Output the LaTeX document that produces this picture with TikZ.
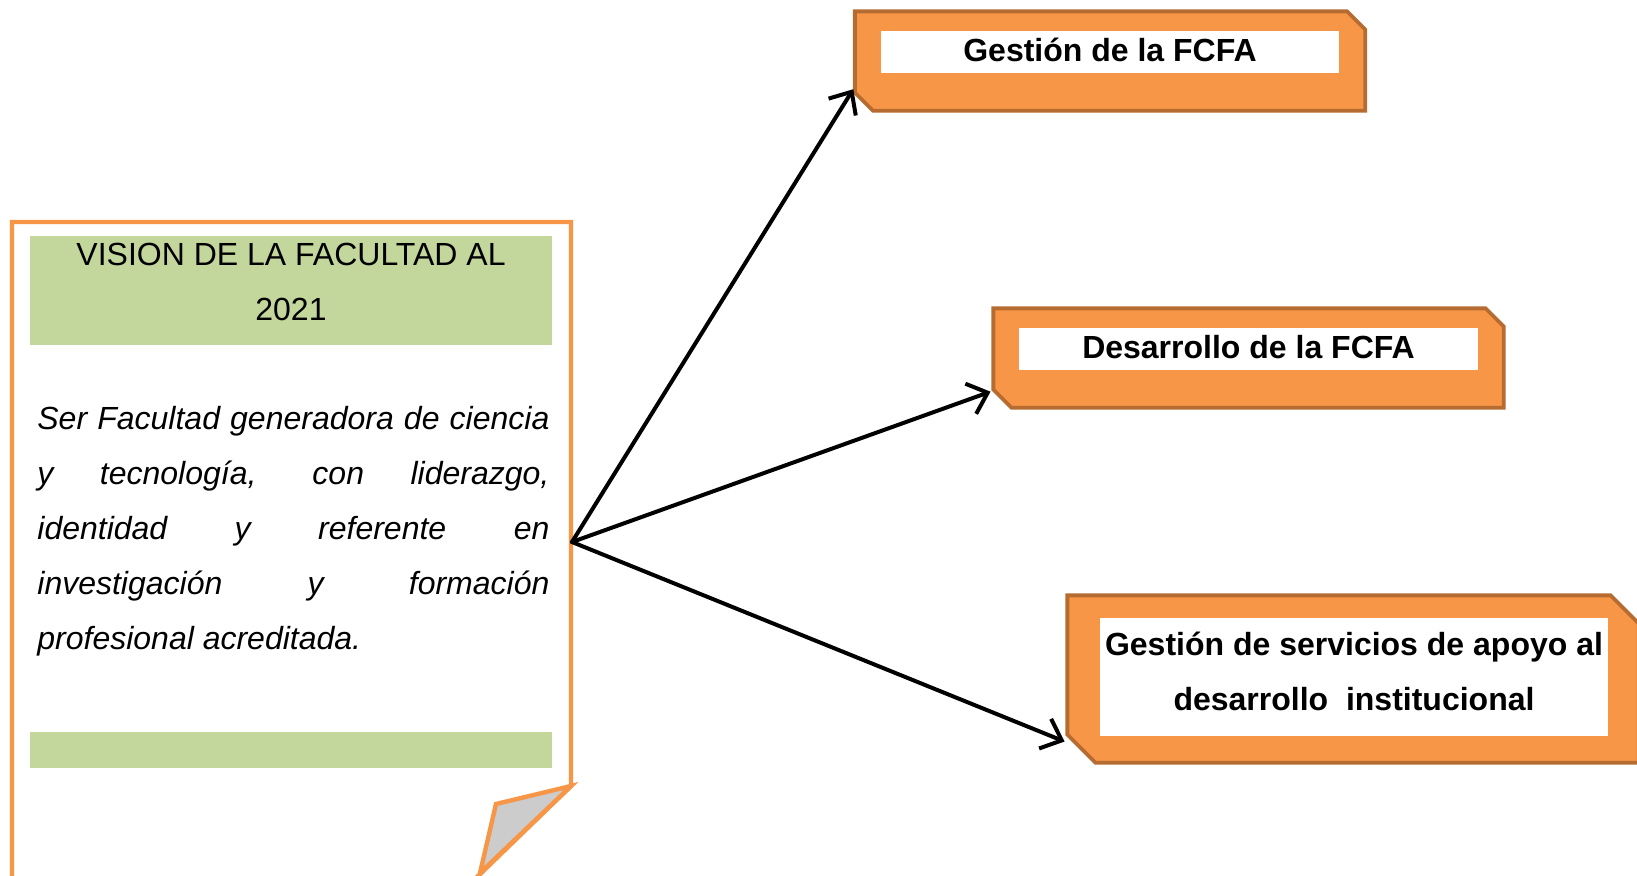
\documentclass[tikz,border=0pt]{standalone}
\usepackage{fontspec}
\setmainfont{Liberation Sans}
\usetikzlibrary{arrows.meta}

\definecolor{naranja}{HTML}{F79646}
\definecolor{bordecaja}{HTML}{B66C31}
\definecolor{verde}{HTML}{C3D69B}
\definecolor{pliegue}{HTML}{CCCCCC}

% caja naranja con dos esquinas cortadas alrededor de un nodo
\newcommand{\cajachaflan}[2]{%
  \draw[caja] (#1.north west) -- ([xshift=-#2]#1.north east) -- ([yshift=-#2]#1.north east)
    -- (#1.south east) -- ([xshift=#2]#1.south west) -- ([yshift=#2]#1.south west) -- cycle;}

\begin{document}
\begin{tikzpicture}[
  x=0.5pt,y=-0.5pt,
  every node/.style={inner sep=0pt,font=\fontsize{16}{27.5}\selectfont},
  every path/.style={>={Straight Barb[length=9pt,width=16pt,line width=2pt]}},
  caja/.style={fill=naranja,draw=bordecaja,line width=1.9pt,line join=miter},
  marco/.style={rectangle},
  ventana/.style={fill=white,align=center,font=\fontsize{16}{27.5}\selectfont\bfseries},
  banda/.style={fill=verde,minimum width=261pt},
  flecha/.style={line width=2pt,line cap=round,shorten >=1.5pt},
  ]
  \useasboundingbox (0,0) rectangle (1637,875);
  % hoja de la vision
  \draw[naranja,line width=2.2pt,fill=white] (12,222) -- (571,222) -- (571,786)
    -- (476,878) -- (476,885) -- (12,885) -- cycle;
  \draw[naranja,line width=2.2pt,fill=pliegue] (571,786) -- (496,804) -- (480,873) -- cycle;
  \node[banda,minimum height=54.5pt] (bandaSup) at (291,290.5) {};
  \node[banda,minimum height=18pt] (bandaInf) at (291,750) {};
  \node[anchor=north,align=center] (titulo) at (291,242.5) {VISION DE LA FACULTAD AL\\2021};
  \node[anchor=north west,text width=256pt,align=justify,
    font=\fontsize{16}{27.5}\selectfont\itshape] (vision) at (37,406)
    {Ser Facultad generadora de ciencia\linebreak
     y tecnología, con liderazgo,\linebreak
     identidad y referente en\linebreak
     investigación y formación\linebreak
     profesional acreditada.};
  \coordinate (origen) at (572,542);

  % ejes
  \node[marco,minimum width=254.75pt,minimum height=49.25pt] (cajaGestion) at (1110,61) {};
  \cajachaflan{cajaGestion}{9pt}
  \node[ventana,minimum width=229pt,minimum height=21pt,text depth=2pt] (gestion) at (1110,52) {Gestión de la FCFA};
  \node[marco,minimum width=254.75pt,minimum height=49.25pt] (cajaDesarrollo) at (1248.5,358) {};
  \cajachaflan{cajaDesarrollo}{9pt}
  \node[ventana,minimum width=229.5pt,minimum height=21pt,text depth=2pt] (desarrollo) at (1248.5,349) {Desarrollo de la FCFA};
  \node[marco,minimum width=285.25pt,minimum height=83.25pt] (cajaServicios) at (1353,679) {};
  \cajachaflan{cajaServicios}{14pt}
  \node[ventana,minimum width=254pt,minimum height=59pt,text depth=6pt] (servicios) at (1354,677)
    {Gestión de servicios de apoyo al\\desarrollo~ institucional};

  \path[->,flecha]
  (origen) edge ([yshift=12pt]cajaGestion.south west)
  (origen) edge ([yshift=8.5pt]cajaDesarrollo.south west)
  (origen) edge ([yshift=10pt]cajaServicios.south west);
\end{tikzpicture}
\end{document}
